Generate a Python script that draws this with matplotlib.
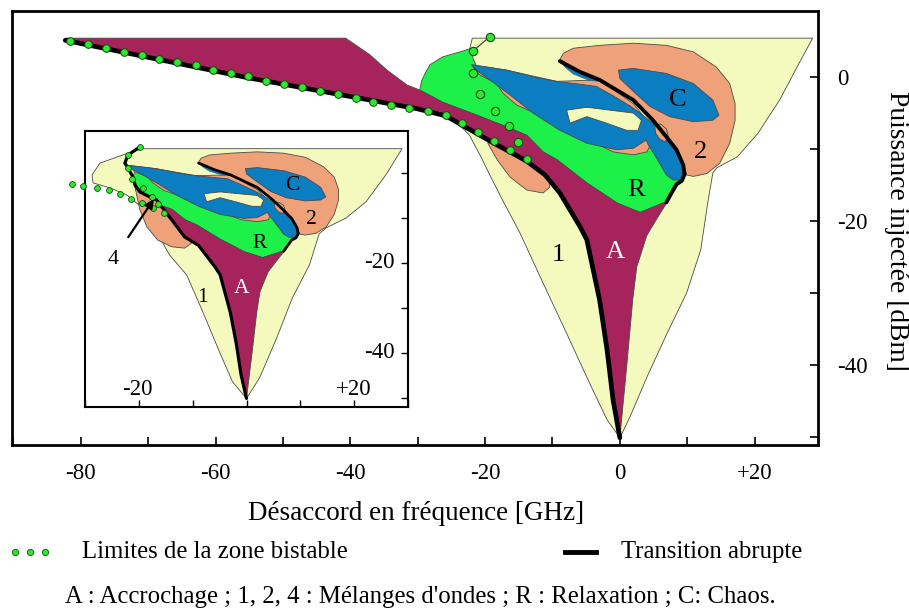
import numpy as np
import matplotlib
matplotlib.use("Agg")
import matplotlib.pyplot as plt
from matplotlib.patches import Polygon
from matplotlib.lines import Line2D

plt.rcParams['font.family'] = ['Liberation Serif', 'DejaVu Serif']

# ---------------- data (detuning GHz, injected power dBm) ----------------
yellow_main = [(-21.9, 5.4), (28.6, 5.4), (26.3, 1.4), (23.7, -3.2), (20.5, -7.8), (17.4, -11.1),
               (14.4, -12.6), (13.8, -13.3), (13.1, -17.1), (12.0, -24.0), (9.9, -30.0), (7.0, -35.6),
               (4.0, -41.7), (1.5, -47.2), (0.0, -50.1), (-1.9, -47.6), (-4.5, -42.5), (-7.9, -35.6),
               (-11.4, -28.6), (-14.8, -21.7), (-17.4, -17.1), (-19.3, -13.6), (-20.5, -11.3),
               (-22.3, -8.1), (-24.8, -5.7), (-26.0, -4.5), (-25.0, -2.0), (-22.5, 3.0)]
yellow_inset = [(-19.3, 5.4), (28.9, 5.4), (25.9, -0.4), (22.2, -6.4), (18.5, -10.0), (14.8, -12.2),
                (13.5, -13.5), (11.7, -20.4), (8.5, -27.8), (5.6, -36.7), (2.4, -45.6), (0.0, -50.1),
                (-2.6, -46.4), (-5.0, -39.8), (-8.1, -30.9), (-11.1, -22.7), (-14.3, -18.2),
                (-16.7, -13.1), (-19.3, -7.8), (-22.2, -4.9), (-25.4, -3.3), (-28.5, -2.2),
                (-28.7, -0.4), (-27.2, 2.2), (-23.0, 4.0)]

# abrupt transition (black line)
line_upper_main = [(-82.3, 5.1), (-55.2, -0.1), (-30.1, -4.4), (-25.8, -5.4), (-23.4, -6.7),
                   (-21.1, -7.9), (-18.7, -9.2), (-16.3, -10.4), (-13.8, -11.7), (-11.1, -13.6)]
line_upper_inset = [(-19.8, 5.8), (-22.0, 4.0), (-22.6, 2.2), (-22.0, 1.1), (-21.1, -0.9),
                    (-20.7, -2.7), (-19.8, -4.2), (-18.0, -5.3), (-16.7, -6.0), (-15.7, -7.6),
                    (-13.9, -10.4), (-11.5, -14.2)]
line_lower = [(-8.9, -16.1), (-5.9, -20.8), (-4.9, -22.6), (-3.0, -31.0), (-1.9, -37.9),
              (-1.0, -44.9), (0.0, -50.1)]
line_right = [(-8.9, 2.2), (-7.9, 1.7), (-5.9, 0.7), (-3.0, -0.4), (2.0, -3.2), (4.9, -6.0),
              (6.9, -8.3), (8.4, -10.1), (9.4, -12.2), (9.6, -13.5), (9.2, -14.4), (8.4, -14.9),
              (7.6, -16.2), (6.9, -17.4)]

# locking region A
band_top_main = [(-82.3, 5.4), (-40.7, 5.4), (-37.1, 3.1), (-34.6, 1.0), (-31.6, -1.1),
                 (-29.7, -1.8), (-26.3, -3.5), (-21.2, -5.3)]
a_upper = [(-16.3, -7.1), (-13.8, -8.1), (-11.4, -10.4), (-9.3, -11.5), (-4.9, -14.7),
           (-0.4, -17.5), (3.0, -18.8), (6.4, -17.5), (7.0, -17.4)]
a_right = [(5.6, -19.5), (4.0, -22.0), (2.5, -26.4), (1.9, -31.0), (1.0, -40.3)]

# relaxation region R
green_left_main = [(-29.7, -1.8), (-29.4, -0.5), (-28.9, 0.5), (-28.2, 1.7), (-26.3, 2.8),
                   (-23.7, 3.5), (-22.0, 4.0), (-21.8, 2.6)]
green_left_inset = [(-21.1, -0.9), (-20.7, 0.5)]
green_top = [(-21.0, 1.0), (-18.0, -0.3), (-15.0, -2.0), (-10.0, -3.5), (-5.0, -6.0), (0.0, -7.5),
             (3.0, -8.0), (4.5, -9.0), (5.5, -11.0), (6.9, -12.8), (8.2, -13.8), (9.3, -13.9)]
green_right = [(9.6, -13.9), (9.2, -14.4), (8.4, -14.9), (7.6, -16.2), (7.0, -17.4)]

# wave mixing 2 / chaos C
orange_big = [(-8.9, 2.4), (-8.4, 3.3), (-6.9, 4.0), (-3.0, 4.4), (2.0, 4.7), (6.9, 4.4), (10.9, 3.5),
              (14.3, 1.4), (16.3, -0.9), (17.1, -3.7), (17.1, -6.0), (16.3, -9.2), (14.8, -12.0),
              (12.9, -13.4), (10.9, -13.8), (9.9, -13.6), (9.4, -12.2), (8.4, -10.1), (6.9, -8.3),
              (4.9, -6.0), (2.0, -3.2), (-3.0, -0.4), (-5.9, 0.7), (-7.9, 1.7)]
blue_c = [(-0.2, 0.96), (2.0, 1.2), (6.9, 0.5), (10.9, -0.9), (13.8, -3.2), (14.7, -5.3), (13.8, -6.0),
          (10.9, -6.2), (7.4, -5.5), (4.5, -4.1), (2.0, -2.0), (0.0, -0.2)]
orange_strip = [(-22.0, 1.7), (-16.8, 0.96), (-9.4, -0.6), (-3.0, -0.4), (2.0, -3.7), (4.0, -6.0),
                (4.5, -9.5), (4.0, -10.4), (2.0, -10.8), (-1.0, -10.4), (-4.0, -9.0), (-7.9, -6.9),
                (-11.9, -5.3), (-15.3, -3.9), (-17.3, -2.3), (-18.3, -0.9), (-20.8, 0.3)]
blue_band = [(-22.0, 1.7), (-19.8, 1.4), (-16.8, 0.96), (-12.9, 0.04), (-9.4, -0.6), (-5.9, -1.0),
             (-3.5, -1.3), (-1.0, -2.6), (1.5, -4.0), (3.0, -5.0), (4.2, -5.9), (5.2, -6.7),
             (6.4, -8.0), (7.6, -9.4), (8.6, -10.8), (9.2, -12.0), (9.3, -13.5), (9.1, -14.3),
             (7.9, -14.3), (6.9, -13.6), (5.9, -12.0), (4.9, -10.4), (4.2, -9.4), (3.9, -8.75),
             (2.0, -9.9), (-0.5, -10.1), (-4.9, -9.2), (-8.9, -7.4), (-12.9, -5.0), (-16.3, -2.5),
             (-19.3, -0.4), (-21.3, 0.96)]
blue_cap = [(-8.6, 2.0), (-7.9, 1.6), (-5.9, 0.6), (-3.0, -0.6), (-4.5, -0.5), (-6.9, 0.4), (-8.2, 1.4)]
pale_tongue = [(-7.9, -4.6), (-4.9, -4.2), (-1.5, -4.6), (2.0, -5.0), (3.2, -6.0), (2.7, -7.4),
               (1.0, -7.4), (-2.0, -6.4), (-4.9, -5.5), (-7.4, -6.4)]
orange_small = [(5.2, -6.9), (6.0, -6.5), (6.9, -7.2), (7.2, -8.3), (6.7, -9.0), (5.9, -8.6), (5.3, -7.8)]
orange_blob_main = [(-19.6, -9.2), (-18.2, -11.5), (-16.3, -13.9), (-13.8, -15.7), (-11.4, -16.1),
                    (-10.4, -15.3), (-10.5, -14.0), (-13.0, -11.0), (-16.0, -9.5), (-18.7, -8.6)]
orange_blob_inset = [(-21.1, -1.1), (-20.4, -4.9), (-19.8, -8.2), (-18.5, -12.0), (-16.5, -14.9),
                     (-13.9, -16.4), (-11.5, -16.7), (-10.2, -15.6), (-11.0, -13.5), (-14.0, -9.5),
                     (-17.0, -5.5), (-20.0, -1.5)]

# bistability limits (green dots)
dots_main_x = [-81.6, -78.9, -76.3, -73.6, -70.9, -68.4, -65.7, -62.9, -60.4, -57.7, -55.2, -52.5,
               -49.9, -47.2, -44.5, -41.8, -39.2, -36.6, -34.0, -31.3, -28.5, -25.8, -23.4, -21.1,
               -18.7, -16.3, -13.8]
dots_main_y = [5.04, 4.54, 4.03, 3.51, 3.06, 2.46, 2.04, 1.63, 1.01, 0.60, 0.10, -0.51, -0.93, -1.39,
               -1.90, -2.36, -2.88, -3.43, -3.85, -4.31, -4.72, -5.28, -6.39, -7.64, -8.89, -10.1, -11.4]
dots2_main_x = [-19.3, -21.8, -21.8, -20.8, -18.5, -16.5, -15.1]
dots2_main_y = [5.6, 3.6, 0.6, -2.4, -4.7, -6.8, -9.0]
dots_inset_v_x = [-19.8, -22.0, -22.0, -21.3, -19.3, -17.6, -16.5, -15.4]
dots_inset_v_y = [5.8, 4.0, 1.1, -1.3, -3.3, -5.3, -6.9, -8.9]
dots_inset_h_x = [-32.4, -30.4, -27.8, -25.6, -23.5, -21.5, -19.4, -17.4]
dots_inset_h_y = [-2.4, -2.9, -3.3, -3.8, -4.7, -5.8, -6.7, -7.8]

region_labels = ['C', '2', 'R', 'A', '1']
labels_main_xy = [(8.6, -3.2), (11.9, -10.4), (2.4, -15.7), (-0.7, -24.3), (-9.1, -24.7)]
labels_inset_xy = [(8.5, -2.7), (12.0, -10.4), (2.4, -15.6), (-0.9, -25.6), (-8.1, -27.6)]

x_major = [-80, -60, -40, -20, 0, 20]
x_major_labels = ['-80', '-60', '-40', '-20', '0', '+20']
x_minor = [-90, -70, -50, -30, -10, 10]
y_major = [0, -20, -40]
y_major_labels = ['0', '-20', '-40']
y_minor = [-10, -30, -50]

# ---------------- colours ----------------
C_YEL = '#F4FABE'
C_PUR = '#A6245B'
C_GRN = '#1EF04A'
C_BLU = '#0B7DC1'
C_ORA = '#EFA27A'
C_DOT = '#2DE82D'
C_EDGE = '#4a4a4a'

fig = plt.figure(figsize=(9.09, 6.09), dpi=100)


def poly(ax, pts, color, z, lw=0.6, ec=C_EDGE):
    ax.add_patch(Polygon(np.array(pts), closed=True, facecolor=color, edgecolor=ec,
                         linewidth=lw, zorder=z, joinstyle='round'))


def line(ax, pts, lw, z=8):
    a = np.array(pts)
    ax.plot(a[:, 0], a[:, 1], color='black', lw=lw, zorder=z, solid_capstyle='round',
            solid_joinstyle='round')


def common_regions(ax):
    poly(ax, orange_strip, C_ORA, 5)
    poly(ax, orange_big, C_ORA, 5)
    poly(ax, blue_band, C_BLU, 6)
    poly(ax, blue_cap, C_BLU, 6, lw=0.3)
    poly(ax, blue_c, C_BLU, 6)
    poly(ax, pale_tongue, C_YEL, 7)
    poly(ax, orange_small, C_ORA, 7)


# ---------------- main axes ----------------
ax = fig.add_axes([12 / 909, 1 - 445 / 609, 806 / 909, 434 / 609])
ax.set_xlim(-90.2, 29.4)
ax.set_ylim(-51.1, 9.17)

poly(ax, yellow_main, C_YEL, 1)
poly(ax, orange_blob_main, C_ORA, 2)
poly(ax, green_left_main + green_top + green_right + a_upper[::-1]
     + [band_top_main[-1], band_top_main[-2]], C_GRN, 3)
main_line = line_upper_main + line_lower
poly(ax, band_top_main + a_upper + a_right + main_line[::-1], C_PUR, 4)
common_regions(ax)
line(ax, main_line, 3.4)
line(ax, line_right, 2.8)
ax.plot(dots2_main_x[:2], dots2_main_y[:2], color='#333333', lw=0.8, zorder=8)
ax.plot(dots_main_x, dots_main_y, 'o', ms=5.5, mfc=C_DOT, mec='#0d4d0d', mew=0.7, zorder=9)
ax.plot(dots2_main_x, dots2_main_y, 'o', ms=6, mfc=C_DOT, mec='#0d4d0d', mew=0.8, zorder=9)

for lab, (lx, ly) in zip(region_labels, labels_main_xy):
    ax.text(lx, ly, lab, fontsize=19, ha='center', va='center', zorder=10,
            color='white' if lab == 'A' else 'black')

ax.set_xticks(x_major)
ax.set_xticklabels(x_major_labels, fontsize=16.5)
ax.set_xticks(x_minor, minor=True)
ax.yaxis.tick_right()
ax.set_yticks(y_major)
ax.set_yticklabels(y_major_labels, fontsize=16.5)
ax.set_yticks(y_minor, minor=True)
ax.tick_params(axis='x', which='both', direction='in', length=6, width=1.2, pad=13, top=False)
ax.tick_params(axis='y', which='both', direction='in', length=6, width=1.2, pad=14,
               left=False, right=True)
for s in ax.spines.values():
    s.set_linewidth(2.0)

# ---------------- inset ----------------
axi = fig.add_axes([85 / 909, 1 - 407 / 609, 323 / 909, 276 / 609])
axi.set_xlim(-30, 29.8)
axi.set_ylim(-52, 9.33)
axi.set_facecolor('white')

poly(axi, yellow_inset, C_YEL, 1)
poly(axi, orange_blob_inset, C_ORA, 2)
inset_mid = line_upper_inset[-4:]  # part of the transition bordering A
poly(axi, green_left_inset + green_top + green_right + a_upper[::-1] + line_upper_inset[4:9][::-1],
     C_GRN, 3)
poly(axi, a_upper + a_right + line_lower[::-1] + inset_mid[::-1], C_PUR, 4)
common_regions(axi)
line(axi, line_upper_inset + line_lower, 2.3)
line(axi, line_right, 2.0)
axi.plot(dots_inset_v_x, dots_inset_v_y, 'o', ms=4.2, mfc=C_DOT, mec='#0d4d0d', mew=0.6,
         zorder=9, clip_on=False)
axi.plot(dots_inset_h_x, dots_inset_h_y, 'o', ms=4.2, mfc=C_DOT, mec='#0d4d0d', mew=0.6,
         zorder=9, clip_on=False, ls='none')

for lab, (lx, ly) in zip(region_labels, labels_inset_xy):
    axi.text(lx, ly, lab, fontsize=15.5, ha='center', va='center', zorder=10,
             color='white' if lab == 'A' else 'black')

axi.annotate('4', xy=(-17.2, -5.8), xytext=(-24.8, -19.3), fontsize=16, ha='center', va='center',
             zorder=11, arrowprops=dict(arrowstyle='-|>', color='black', lw=1.6,
                                        mutation_scale=13, shrinkA=9, shrinkB=0))

axi.set_xticks([-30, -20, -10, 0, 10, 20, 30])
axi.set_xticklabels([])
axi.yaxis.tick_right()
axi.set_yticks([0, -10, -20, -30, -40, -50])
axi.set_yticklabels([])
axi.tick_params(axis='both', direction='in', length=5, width=1.0)
axi.tick_params(axis='y', left=False, right=True)
axi.tick_params(axis='x', top=False)
for s in axi.spines.values():
    s.set_linewidth(1.5)
for tx, ty, tl, ha in [(-20.2, -48.2, '-20', 'center'), (20.0, -48.2, '+20', 'center'),
                       (27.6, -20.0, '-20', 'right'), (27.6, -40.0, '-40', 'right')]:
    axi.text(tx, ty, tl, fontsize=16.5, ha=ha, va='center', zorder=10)

# ---------------- axis titles and legend ----------------
fig.text(416 / 909, 1 - 514 / 609, 'Désaccord en fréquence [GHz]', fontsize=19.5,
         ha='center', va='center')
fig.text(897 / 909, 1 - 231 / 609, 'Puissance injectée [dBm]', fontsize=19.8,
         ha='center', va='center', rotation=-90)

leg_y = 1 - 552 / 609
for px in (15, 30, 45):
    fig.add_artist(Line2D([px / 909], [leg_y], marker='o', ms=4.5, mfc=C_DOT, mec='#0d4d0d',
                          mew=0.6, ls='none', transform=fig.transFigure))
fig.text(82 / 909, leg_y, 'Limites de la zone bistable', fontsize=17.8, ha='left', va='center')
fig.add_artist(Line2D([565 / 909, 596 / 909], [leg_y, leg_y], color='black', lw=3.5,
                      transform=fig.transFigure))
fig.text(621 / 909, leg_y, 'Transition abrupte', fontsize=17.8, ha='left', va='center')
fig.text(65 / 909, 1 - 597 / 609,
         "A : Accrochage ; 1, 2, 4 : Mélanges d'ondes ; R : Relaxation ; C: Chaos.",
         fontsize=17.8, ha='left', va='center')

fig.savefig('out.png', dpi=100)
